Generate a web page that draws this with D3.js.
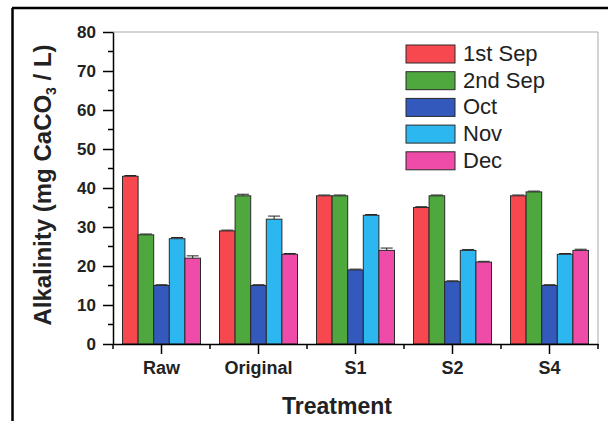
<!DOCTYPE html>
<html>
<head>
<meta charset="utf-8">
<script src="https://cdn.jsdelivr.net/npm/d3@7"></script>
<style>
  body { margin: 0; background: #fff; }
  text { font-family: "Liberation Sans", Arial, sans-serif; }
</style>
</head>
<body>
<div id="container"></div>
<script>
const treatments = ["Raw", "Original", "S1", "S2", "S4"];
const months = ["1st Sep", "2nd Sep", "Oct", "Nov", "Dec"];
const colors = ["#f7474f", "#4ea83e", "#3259bb", "#2cb7f1", "#ef4ba9"];

// values per month, one entry per treatment
const sep1 = [43, 29, 38, 35, 38];
const sep2 = [28, 38, 38, 38, 39];
const oct  = [15, 15, 19, 16, 15];
const nov  = [27, 32, 33, 24, 23];
const dec  = [22, 23, 24, 21, 24];
const series = [sep1, sep2, oct, nov, dec];

// error bars
const errSep1 = [0.2, 0.2, 0.2, 0.2, 0.2];
const errSep2 = [0.2, 0.4, 0.2, 0.2, 0.2];
const errOct  = [0.2, 0.2, 0.2, 0.2, 0.2];
const errNov  = [0.3, 0.8, 0.2, 0.2, 0.2];
const errDec  = [0.6, 0.2, 0.6, 0.2, 0.3];
const errors = [errSep1, errSep2, errOct, errNov, errDec];

const yTicks = [0, 10, 20, 30, 40, 50, 60, 70, 80];

const width = 608, height = 421;
const margin = {top: 32, right: 10, bottom: 77, left: 113};

const svg = d3.create("svg")
    .attr("width", width)
    .attr("height", height);

// outer frame (top + left)
svg.append("line").attr("x1", 12).attr("x2", 608).attr("y1", 8).attr("y2", 8)
    .attr("stroke", "#000").attr("stroke-width", 2.5);
svg.append("line").attr("x1", 12.5).attr("x2", 12.5).attr("y1", 8).attr("y2", 421)
    .attr("stroke", "#000").attr("stroke-width", 2.5);

const x0 = d3.scaleBand()
    .domain(treatments)
    .range([margin.left, width - margin.right]);

const x1 = d3.scaleBand()
    .domain(months)
    .range([0, 78]);

const y = d3.scaleLinear()
    .domain([0, 80])
    .range([height - margin.bottom, margin.top]);

// light frame top/right
svg.append("path")
    .attr("d", `M${margin.left},${margin.top}H${width - margin.right}V${height - margin.bottom}`)
    .attr("fill", "none").attr("stroke", "#aaa").attr("stroke-width", 1);

// bars
const rows = [];
treatments.forEach((t, i) => {
  months.forEach((m, j) => {
    rows.push({t: t, m: m, v: series[j][i], e: errors[j][i], c: colors[j]});
  });
});

const off = (x0.bandwidth() - 78) / 2;

// error bars
svg.append("g").selectAll("g").data(rows).join("g")
  .each(function(d) {
    const g = d3.select(this);
    const cx = x0(d.t) + off + x1(d.m) + x1.bandwidth() / 2;
    g.append("line").attr("x1", cx).attr("x2", cx)
      .attr("y1", y(d.v + d.e)).attr("y2", y(d.v))
      .attr("stroke", "#222").attr("stroke-width", 1);
    g.append("line").attr("x1", cx - 6).attr("x2", cx + 6)
      .attr("y1", y(d.v + d.e)).attr("y2", y(d.v + d.e))
      .attr("stroke", "#222").attr("stroke-width", 1);
  });

svg.append("g").selectAll("rect").data(rows).join("rect")
    .attr("x", d => x0(d.t) + off + x1(d.m))
    .attr("y", d => y(d.v))
    .attr("width", x1.bandwidth())
    .attr("height", d => y(0) - y(d.v))
    .attr("fill", d => d.c)
    .attr("stroke", "#2a2a2a")
    .attr("stroke-width", 1);

// y axis
const yAxis = svg.append("g")
    .attr("transform", `translate(${margin.left},0)`)
    .call(d3.axisLeft(y).tickValues(yTicks).tickSize(10).tickPadding(7).tickSizeOuter(0));
yAxis.selectAll(".tick line").attr("stroke-width", 1.5);
yAxis.select(".domain").attr("stroke-width", 1.5);
yAxis.selectAll("text")
    .attr("font-size", 17).attr("font-weight", "bold").attr("fill", "#222");
// minor y ticks
svg.append("g").selectAll("line").data(d3.range(5, 80, 10)).join("line")
    .attr("x1", margin.left - 5).attr("x2", margin.left)
    .attr("y1", d => y(d)).attr("y2", d => y(d))
    .attr("stroke", "#000").attr("stroke-width", 1.5);

// x axis
const xAxis = svg.append("g")
    .attr("transform", `translate(0,${y(0)})`)
    .call(d3.axisBottom(x0).tickSize(10).tickPadding(7).tickSizeOuter(0));
xAxis.selectAll(".tick line").attr("stroke-width", 1.5);
xAxis.select(".domain").attr("stroke-width", 1.5);
xAxis.selectAll("text")
    .attr("font-size", 18).attr("font-weight", "bold").attr("fill", "#222");
// minor x ticks at group boundaries
svg.append("g").selectAll("line")
    .data(treatments.map(t => x0(t)).concat([width - margin.right]))
    .join("line")
    .attr("x1", d => d).attr("x2", d => d)
    .attr("y1", y(0)).attr("y2", y(0) + 5)
    .attr("stroke", "#000").attr("stroke-width", 1.5);

// axis titles
svg.append("text")
    .attr("x", 337).attr("y", 414)
    .attr("text-anchor", "middle")
    .attr("font-size", 23).attr("font-weight", "bold").attr("fill", "#222")
    .text("Treatment");

const yl = svg.append("text")
    .attr("transform", "translate(51,185) rotate(-90)")
    .attr("text-anchor", "middle")
    .attr("font-size", 24).attr("font-weight", "bold").attr("fill", "#222");
yl.append("tspan").text("Alkalinity (mg CaCO");
yl.append("tspan").attr("font-size", 14).attr("dy", 5).text("3");
yl.append("tspan").attr("dy", -5).text(" / L)");

// legend
const legend = svg.append("g").selectAll("g").data(months).join("g")
    .attr("transform", (d, i) => `translate(406,${45 + i * 26.7})`);
legend.append("rect")
    .attr("width", 49).attr("height", 18)
    .attr("fill", (d, i) => colors[i])
    .attr("stroke", "#2a2a2a").attr("stroke-width", 1);
legend.append("text")
    .attr("x", 57).attr("y", 16)
    .attr("font-size", 22).attr("fill", "#222")
    .text(d => d);

container.append(svg.node());
</script>
</body>
</html>
